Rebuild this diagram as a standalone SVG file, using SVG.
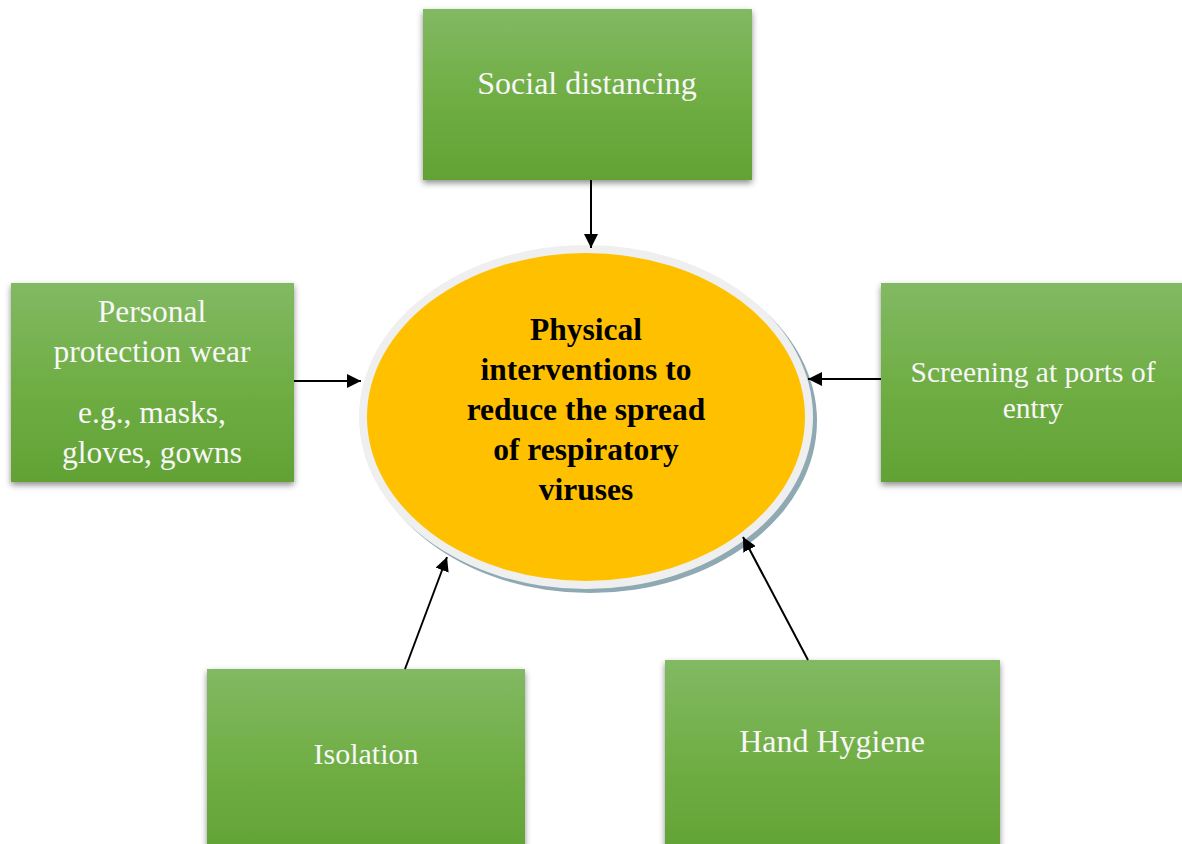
<svg xmlns="http://www.w3.org/2000/svg" width="1182" height="844" viewBox="0 0 1182 844">
<defs>
<linearGradient id="g" x1="0" y1="0" x2="0" y2="1">
<stop offset="0" stop-color="#82b963"/>
<stop offset="0.5" stop-color="#70ae45"/>
<stop offset="1" stop-color="#62a234"/>
</linearGradient>
<filter id="sh" x="-10%" y="-10%" width="120%" height="125%">
<feDropShadow dx="0" dy="3" stdDeviation="3" flood-color="#000" flood-opacity="0.45"/>
</filter>
<marker id="ah" viewBox="0 0 10 10" refX="10" refY="5" markerWidth="7" markerHeight="7" markerUnits="strokeWidth" orient="auto">
<path d="M0,0 L10,5 L0,10 Z" fill="#000"/>
</marker>
</defs>
<style>
.box{fill:url(#g);filter:url(#sh);}
.t{font-family:"Liberation Serif","Times New Roman",serif;font-size:30px;fill:#f7f7f7;text-anchor:middle;}
.c{font-family:"Liberation Serif","Times New Roman",serif;font-size:31.5px;font-weight:bold;fill:#000;text-anchor:middle;}
.ln{stroke:#000;stroke-width:2;fill:none;marker-end:url(#ah);}
</style>
<rect width="1182" height="844" fill="#fff"/>
<g id="center">
<ellipse cx="590" cy="421" rx="227" ry="172" fill="#8fa9b3"/>
<ellipse cx="586" cy="417" rx="227" ry="172" fill="#efefef"/>
<ellipse cx="586" cy="417" rx="219" ry="164" fill="#ffc000"/>
<text class="c" x="586" y="340">Physical</text>
<text class="c" x="586" y="380">interventions to</text>
<text class="c" x="586" y="420">reduce the spread</text>
<text class="c" x="586" y="460">of respiratory</text>
<text class="c" x="586" y="500">viruses</text>
</g>
<g id="social">
<rect class="box" x="423" y="9" width="329" height="171"/>
<text class="t" x="587" y="94" style="font-size:32px">Social distancing</text>
</g>
<g id="ppe">
<rect class="box" x="11" y="283" width="283" height="199"/>
<g style="font-size:31.5px">
<text class="t" x="152" y="322" style="font-size:31.5px">Personal</text>
<text class="t" x="152" y="362" style="font-size:31.5px">protection wear</text>
<text class="t" x="152" y="423" style="font-size:31.5px">e.g., masks,</text>
<text class="t" x="152" y="463" style="font-size:31.5px">gloves, gowns</text>
</g>
</g>
<g id="screening">
<rect class="box" x="881" y="283" width="306" height="199"/>
<text class="t" x="1033" y="382" style="font-size:29.5px">Screening at ports of</text>
<text class="t" x="1033" y="418" style="font-size:29.5px">entry</text>
</g>
<g id="isolation">
<rect class="box" x="207" y="669" width="318" height="190"/>
<text class="t" x="366" y="764">Isolation</text>
</g>
<g id="hand">
<rect class="box" x="665" y="660" width="335" height="200"/>
<text class="t" x="832" y="752" style="font-size:32px">Hand Hygiene</text>
</g>
<g id="connectors">
<line class="ln" x1="591" y1="180" x2="591" y2="248"/>
<line class="ln" x1="294" y1="381" x2="361" y2="381"/>
<line class="ln" x1="881" y1="379" x2="808" y2="379"/>
<line class="ln" x1="405" y1="669" x2="447" y2="557"/>
<line class="ln" x1="808" y1="660" x2="743" y2="537"/>
</g>
</svg>
